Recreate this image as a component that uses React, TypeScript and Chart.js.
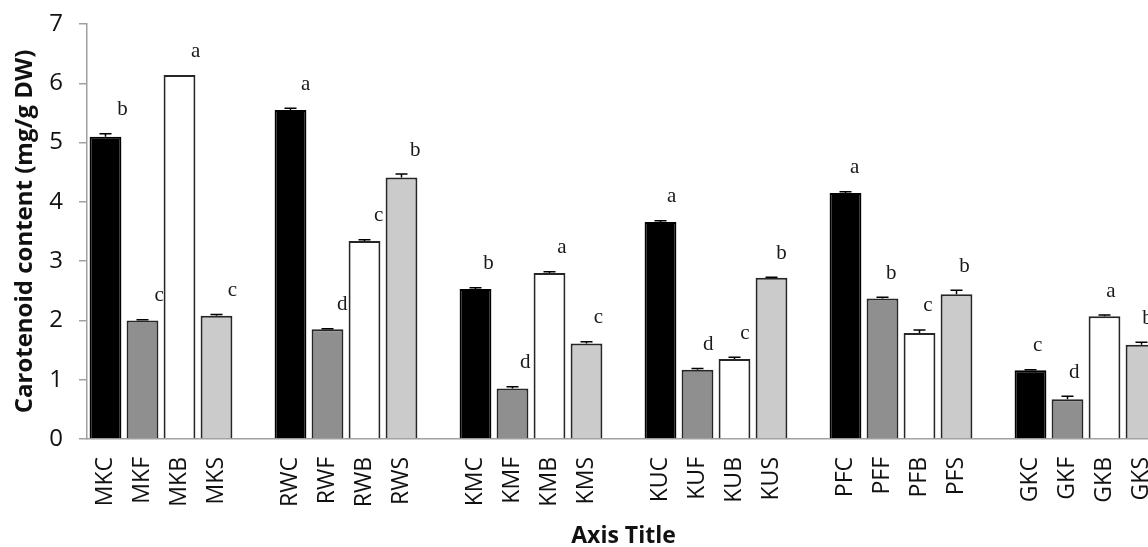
import React, { useEffect, useRef } from "react";
import { Chart, registerables } from "chart.js";

Chart.register(...registerables);

// ---- Data ----
const categories = [
  "MKC", "MKF", "MKB", "MKS",
  "RWC", "RWF", "RWB", "RWS",
  "KMC", "KMF", "KMB", "KMS",
  "KUC", "KUF", "KUB", "KUS",
  "PFC", "PFF", "PFB", "PFS",
  "GKC", "GKF", "GKB", "GKS",
];
const values = [
  5.10, 2.00, 6.14, 2.08,
  5.55, 1.85, 3.34, 4.41,
  2.53, 0.85, 2.80, 1.61,
  3.66, 1.17, 1.35, 2.72,
  4.15, 2.37, 1.79, 2.44,
  1.16, 0.67, 2.07, 1.59,
];
const errors = [
  0.05, 0.01, 0.0, 0.02,
  0.03, 0.01, 0.02, 0.06,
  0.02, 0.03, 0.02, 0.03,
  0.02, 0.02, 0.03, 0.01,
  0.02, 0.02, 0.05, 0.07,
  0.01, 0.05, 0.02, 0.04,
];
const letters = [
  "b", "c", "a", "c",
  "a", "d", "c", "b",
  "b", "d", "a", "c",
  "a", "d", "c", "b",
  "a", "b", "c", "b",
  "c", "d", "a", "b",
];
const treatmentColors = ["#000000", "#8f8f8f", "#ffffff", "#cbcbcb"];
const yAxisTitle = "Carotenoid content (mg/g DW)";
const xAxisTitle = "Axis Title";
const yMin = 0;
const yMax = 7;
const groupSize = 4;

// ---- Build chart table (blank slot between groups) ----
const labels: string[] = [];
const data: (number | null)[] = [];
const bg: string[] = [];
const border: string[] = [];
const srcIndex: number[] = [];
categories.forEach((c, i) => {
  if (i > 0 && i % groupSize === 0) {
    labels.push("");
    data.push(null);
    bg.push("transparent");
    border.push("transparent");
    srcIndex.push(-1);
  }
  labels.push(c);
  data.push(values[i]);
  const col = treatmentColors[i % groupSize];
  bg.push(col);
  border.push(i % groupSize === 0 ? "#000000" : "#262626");
  srcIndex.push(i);
});

const SANS = "'Open Sans', 'Liberation Sans', sans-serif";
const SERIF = "'Liberation Serif', 'DejaVu Serif', serif";

const annotPlugin = {
  id: "annot",
  afterDatasetsDraw(chart: any) {
    const ctx = chart.ctx;
    const y = chart.scales.y;
    const meta = chart.getDatasetMeta(0);
    const n = meta.data.length;
    ctx.save();
    meta.data.forEach((el: any, k: number) => {
      const idx = srcIndex[k];
      if (idx < 0) return;
      const v = values[idx];
      const e = errors[idx];
      const top = y.getPixelForValue(v + e);
      if (e > 0) {
        ctx.strokeStyle = "#000";
        ctx.lineWidth = 1.5;
        ctx.beginPath();
        ctx.moveTo(el.x, el.y);
        ctx.lineTo(el.x, top);
        ctx.moveTo(el.x - 6, top);
        ctx.lineTo(el.x + 6, top);
        ctx.stroke();
      }
      const dx = 17 - (11 * k) / (n - 1);
      ctx.fillStyle = "#1a1a1a";
      ctx.font = `21px ${SERIF}`;
      ctx.textAlign = "center";
      ctx.textBaseline = "middle";
      ctx.fillText(letters[idx], el.x + dx, top - 24);
    });
    ctx.restore();
  },
  afterDraw(chart: any) {
    const ctx = chart.ctx;
    const area = chart.chartArea;
    ctx.save();
    ctx.fillStyle = "#111";
    ctx.font = `bold 24px ${SANS}`;
    ctx.textAlign = "center";
    ctx.textBaseline = "middle";
    ctx.translate(25, (area.top + area.bottom) / 2);
    ctx.rotate(-Math.PI / 2);
    ctx.fillText(yAxisTitle, 0, 0);
    ctx.restore();
    ctx.save();
    ctx.fillStyle = "#111";
    ctx.font = `bold 23px ${SANS}`;
    ctx.textAlign = "center";
    ctx.textBaseline = "middle";
    ctx.fillText(xAxisTitle, (area.left + area.right) / 2, 536);
    ctx.restore();
  },
};

export default function App() {
  const ref = useRef<HTMLCanvasElement>(null);
  useEffect(() => {
    if (!ref.current) return;
    const chart = new Chart(ref.current, {
      type: "bar",
      data: {
        labels,
        datasets: [
          {
            data,
            backgroundColor: bg,
            borderColor: border,
            borderWidth: 2,
            categoryPercentage: 1,
            barPercentage: 0.86,
          },
        ],
      },
      options: {
        responsive: false,
        animation: false,
        layout: { padding: { left: 0, top: 24, right: 12, bottom: 0 } },
        plugins: {
          legend: { display: false },
          tooltip: { enabled: false },
        },
        scales: {
          x: {
            offset: true,
            grid: { display: false, drawTicks: false },
            border: { display: true, color: "#a0a0a0", width: 1.5 },
            ticks: {
              autoSkip: false,
              minRotation: 90,
              maxRotation: 90,
              padding: 18,
              color: "#111",
              font: { family: SANS, size: 23 },
            },
            afterFit(scale: any) {
              scale.height = 108;
              scale.paddingLeft = 0;
              scale.paddingRight = 0;
            },
          },
          y: {
            min: yMin,
            max: yMax,
            ticks: {
              stepSize: 1,
              padding: 16,
              color: "#111",
              font: { family: SANS, size: 24 },
            },
            grid: {
              drawOnChartArea: false,
              drawTicks: true,
              tickLength: 8,
              color: "#a0a0a0",
              lineWidth: 1.5,
            },
            border: { display: true, color: "#a0a0a0", width: 1.5 },
            afterFit(scale: any) {
              scale.width = 87;
              scale.paddingTop = 0;
              scale.paddingBottom = 0;
            },
          },
        },
      },
      plugins: [annotPlugin],
    });
    return () => chart.destroy();
  }, []);
  return (
    <div
      style={{
        position: "fixed",
        left: 0,
        top: 0,
        width: 1148,
        height: 547,
        overflow: "hidden",
        background: "#fff",
      }}
    >
      <canvas ref={ref} width={1172} height={547} style={{ display: "block" }} />
    </div>
  );
}
